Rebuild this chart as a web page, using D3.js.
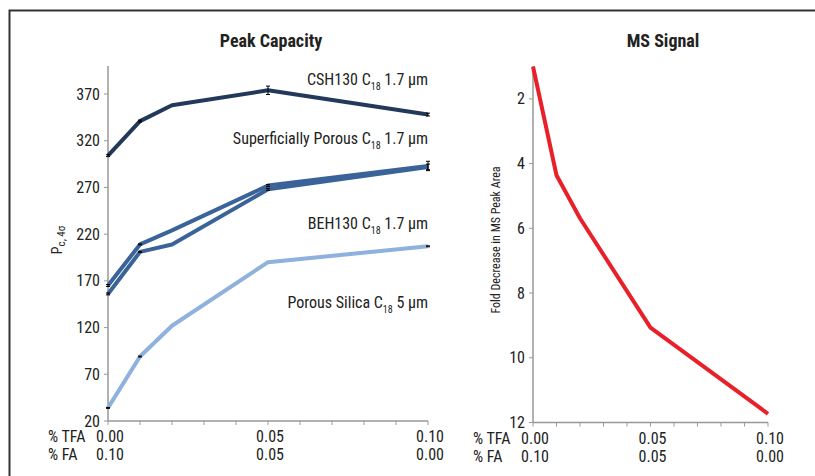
<!DOCTYPE html>
<html><head><meta charset="utf-8">
<script src="https://cdn.jsdelivr.net/npm/d3@7"></script>
<style>
body{margin:0;background:#fff;}
svg text{font-family:"Liberation Sans Narrow","Roboto Condensed","Open Sans",sans-serif;font-stretch:condensed;fill:#222;}
</style></head><body>
<svg id="c" width="815" height="476"></svg>
<script>
const xVals = [0, 0.01, 0.02, 0.05, 0.10];
const csh130 = [304, 341, 358, 374, 348];
const superficial = [165, 209, 224, 272, 293];
const beh130 = [156, 201, 209, 268, 292];
const porousSilica = [34, 89, 122, 190, 207];
const cshErr = [1, 1, 0, 4.5, 1.5];
const supErr = [1, 0.5, 0, 1, 5];
const behErr = [1, 0.5, 0, 1, 3];
const porErr = [0.5, 0.5, 0, 0, 0.5];
const msFold = [1.0, 4.36, 5.69, 9.07, 11.73];
const leftTicks = [20, 70, 120, 170, 220, 270, 320, 370];
const rightTicks = [2, 4, 6, 8, 10, 12];
const xTickLabels = [
  {x: 0, tfa: "0.00", fa: "0.10"},
  {x: 0.05, tfa: "0.05", fa: "0.05"},
  {x: 0.10, tfa: "0.10", fa: "0.00"}
];
const seriesLabels = [
  {main: "CSH130 C", sub: "18", rest: " 1.7 µm", v: 386},
  {main: "Superficially Porous C", sub: "18", rest: " 1.7 µm", v: 323},
  {main: "BEH130 C", sub: "18", rest: " 1.7 µm", v: 231},
  {main: "Porous Silica C", sub: "18", rest: " 5 µm", v: 147}
];

const svg = d3.select("#c");
svg.append("rect").attr("x", 9.5).attr("y", 10.5).attr("width", 820).attr("height", 480)
  .attr("fill", "none").attr("stroke", "#333").attr("stroke-width", 2);

const axisColor = "#999";

function xAxis(g, x, yPos) {
  g.append("line").attr("x1", x.range()[0]).attr("x2", x.range()[1]).attr("y1", yPos).attr("y2", yPos)
    .attr("stroke", axisColor).attr("stroke-width", 1.5);
  d3.range(0, 11).forEach(i => {
    const xx = x(i * 0.01);
    g.append("line").attr("x1", xx).attr("x2", xx).attr("y1", yPos).attr("y2", yPos + 4)
      .attr("stroke", axisColor).attr("stroke-width", 1);
  });
  xTickLabels.forEach(t => {
    g.append("text").attr("x", x(t.x) + 2).attr("y", yPos + 21).attr("text-anchor", "middle")
      .attr("font-size", 16).text(t.tfa);
    g.append("text").attr("x", x(t.x) + 2).attr("y", yPos + 39).attr("text-anchor", "middle")
      .attr("font-size", 16).text(t.fa);
  });
  g.append("text").attr("x", x.range()[0] - 60).attr("y", yPos + 21).attr("font-size", 16).text("% TFA");
  g.append("text").attr("x", x.range()[0] - 60).attr("y", yPos + 39).attr("font-size", 16).text("% FA");
}

function yAxis(g, y, xPos, ticks) {
  g.append("line").attr("x1", xPos).attr("x2", xPos).attr("y1", y.range()[0]).attr("y2", y.range()[1])
    .attr("stroke", axisColor).attr("stroke-width", 1.5);
  ticks.forEach(t => {
    g.append("line").attr("x1", xPos - 4).attr("x2", xPos).attr("y1", y(t)).attr("y2", y(t))
      .attr("stroke", axisColor).attr("stroke-width", 1);
    g.append("text").attr("x", xPos - 8).attr("y", y(t)).attr("dy", "0.35em").attr("text-anchor", "end")
      .attr("font-size", 16).text(t);
  });
}

// LEFT CHART
const xL = d3.scaleLinear().domain([0, 0.10]).range([108, 428]);
const yL = d3.scaleLinear().domain([20, 400]).range([421, 66]);
const gL = svg.append("g");
yAxis(gL, yL, 108, leftTicks);
xAxis(gL, xL, 421);
gL.append("text").attr("x", 271).attr("y", 47).attr("text-anchor", "middle")
  .attr("font-size", 18).attr("font-weight", "bold").text("Peak Capacity");
const yl = gL.append("text").attr("transform", "translate(62,240) rotate(-90)").attr("text-anchor", "middle").attr("font-size", 14);
yl.append("tspan").text("P");
yl.append("tspan").attr("font-size", 11).attr("dy", 3).text("c, 4σ");

const lineL = d3.line().x((d, i) => xL(xVals[i])).y(d => yL(d));
const seriesL = [
  {vals: porousSilica, err: porErr, color: "#8fb1dd"},
  {vals: beh130, err: behErr, color: "#3a6399"},
  {vals: superficial, err: supErr, color: "#3a6399"},
  {vals: csh130, err: cshErr, color: "#22395a"}
];
seriesL.forEach(s => {
  gL.append("path").datum(s.vals).attr("d", lineL).attr("fill", "none")
    .attr("stroke", s.color).attr("stroke-width", 4).attr("stroke-linejoin", "round");
});
seriesL.forEach(s => {
  s.vals.forEach((v, i) => {
    if (!s.err[i]) return;
    const xx = xL(xVals[i]), y1 = yL(v + s.err[i]), y2 = yL(v - s.err[i]);
    gL.append("line").attr("x1", xx).attr("x2", xx).attr("y1", y1).attr("y2", y2).attr("stroke", "#000").attr("stroke-width", 1);
    [y1, y2].forEach(yy => gL.append("line").attr("x1", xx - 2).attr("x2", xx + 2).attr("y1", yy).attr("y2", yy)
      .attr("stroke", "#000").attr("stroke-width", 1));
  });
});
seriesLabels.forEach(l => {
  const t = gL.append("text").attr("x", 428).attr("y", yL(l.v)).attr("dy", "0.35em")
    .attr("text-anchor", "end").attr("font-size", 16);
  t.append("tspan").text(l.main);
  t.append("tspan").attr("font-size", 10).attr("dy", 5).text(l.sub);
  t.append("tspan").attr("dy", -5).text(l.rest);
});

// RIGHT CHART
const xR = d3.scaleLinear().domain([0, 0.10]).range([533, 768]);
const yR = d3.scaleLinear().domain([1, 12]).range([66.5, 422.5]);
const gR = svg.append("g");
yAxis(gR, yR, 533, rightTicks);
xAxis(gR, xR, 422.5);
gR.append("text").attr("x", 663).attr("y", 47).attr("text-anchor", "middle")
  .attr("font-size", 18).attr("font-weight", "bold").text("MS Signal");
gR.append("text").attr("transform", "translate(500,240) rotate(-90)").attr("text-anchor", "middle")
  .attr("font-size", 12).text("Fold Decrease in MS Peak Area");
const lineR = d3.line().x((d, i) => xR(xVals[i])).y(d => yR(d));
gR.append("path").datum(msFold).attr("d", lineR).attr("fill", "none")
  .attr("stroke", "#e8202a").attr("stroke-width", 4).attr("stroke-linejoin", "round");
</script>
</body></html>
